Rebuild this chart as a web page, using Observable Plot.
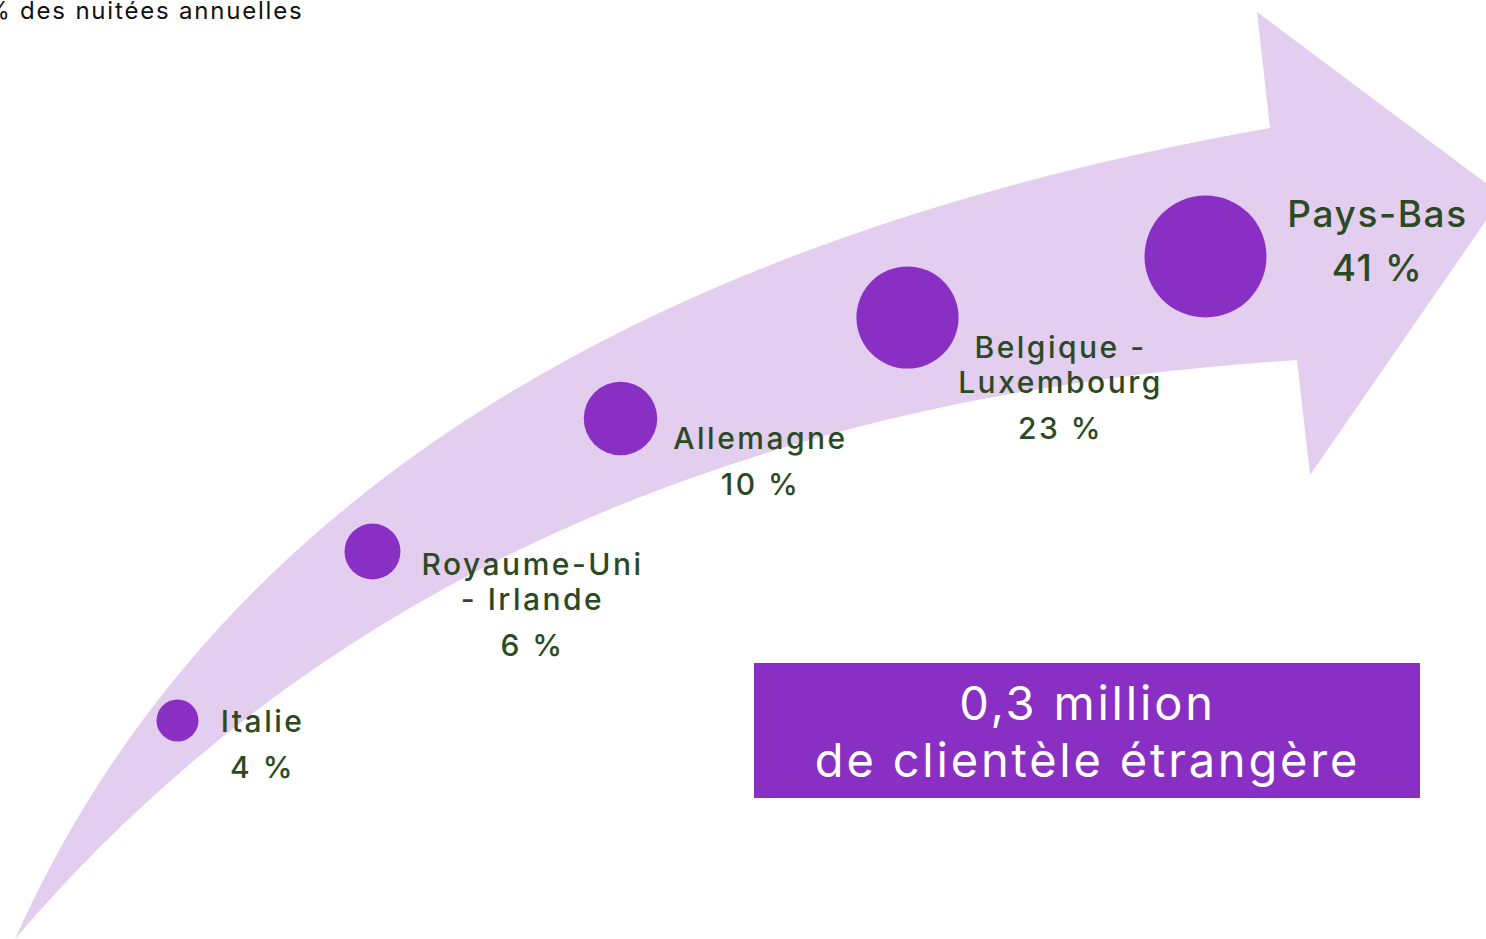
<!DOCTYPE html>
<html><head><meta charset="utf-8">
<script src="https://cdn.jsdelivr.net/npm/d3@7"></script>
<script src="https://cdn.jsdelivr.net/npm/@observablehq/plot@0.6"></script>
<style>
html,body{margin:0;padding:0;background:#fff;overflow:hidden;width:1486px;height:939px}
#chart svg{display:block}
</style>
</head><body><div id="chart"></div>
<script>
// ---- data ----
const countries = ["Italie", "Royaume-Uni\n- Irlande", "Allemagne", "Belgique -\nLuxembourg", "Pays-Bas"];
const shares = [4, 6, 10, 23, 41];
const valueLabels = ["4 %", "6 %", "10 %", "23 %", "41 %"];
const unitLabel = "% des nuitées annuelles";
const totalLabel = "0,3 million\nde clientèle étrangère";

// ---- layout (infographic frame, pixel units) ----
const dotX = [177, 372, 620, 907, 1205];
const dotY = [720, 551, 418, 317, 256];
const labelX = [262, 532, 760, 1060, 1377];
const nameY = [720, 581, 437, 364, 213];
const valueY = [768, 646, 485, 429, 269];
// arrow outline: tail, upper edge (quadratic control, end), head, lower edge (end, control)
const arrowTail = [15, 939];
const upperCtrl = [300, 300], upperEnd = [1270, 128];
const arrowHead = [[1257, 12], [1503, 196], [1310, 475]];
const lowerEnd = [1297, 360], lowerCtrl = [464, 412];
const box = {x1: 754, x2: 1420, y1: 663, y2: 798};

const rows = countries.map((c, i) => ({
  country: c, share: shares[i], value: valueLabels[i],
  x: dotX[i], y: dotY[i], lx: labelX[i], ny: nameY[i], vy: valueY[i]
}));
const maxShare = d3.max(shares);

const purple = "#8a2fc4";
const lilac = "#e3cef0";
const green = "#2b4a24";
const font = "Inter, 'Open Sans', sans-serif";

function arrowMark(index, scales) {
  const X = scales.x, Y = scales.y;
  const P = ([a, b]) => [X(a), Y(b)];
  const p = d3.path();
  p.moveTo(...P(arrowTail));
  p.quadraticCurveTo(...P(upperCtrl), ...P(upperEnd));
  for (const pt of arrowHead) p.lineTo(...P(pt));
  p.lineTo(...P(lowerEnd));
  p.quadraticCurveTo(...P(lowerCtrl), ...P(arrowTail));
  p.closePath();
  return d3.create("svg:path").attr("d", p.toString()).attr("fill", lilac).node();
}

const chart = Plot.plot({
  width: 1486, height: 939,
  margin: 0,
  style: {fontFamily: font, background: "transparent", overflow: "visible"},
  x: {domain: [0, 1486], range: [0, 1486], axis: null},
  y: {domain: [0, 939], range: [0, 939], axis: null},
  r: {type: "log", domain: [4, 41], range: [21, 61]},
  marks: [
    arrowMark,
    Plot.dot(rows, {x: "x", y: "y", r: "share", fill: purple, stroke: "none"}),
    Plot.text(rows, {x: "lx", y: "ny", text: "country", fill: green, lineAnchor: "middle", lineHeight: 1.15,
      fontWeight: 500, fontSize: d => d.share === maxShare ? 37 : 30, ariaDescription: "labels"}),
    Plot.text(rows, {x: "lx", y: "vy", text: "value", fill: green, lineAnchor: "middle", fontWeight: 500,
      fontSize: d => d.share === maxShare ? 37 : 30, ariaDescription: "labels"}),
    Plot.rect([box], {x1: "x1", x2: "x2", y1: "y1", y2: "y2", fill: purple}),
    Plot.text([totalLabel], {x: (box.x1 + box.x2) / 2, y: (box.y1 + box.y2) / 2 - 1, fill: "white", fontSize: 47,
      lineHeight: 1.22, lineAnchor: "middle", ariaDescription: "total"}),
    Plot.text([unitLabel], {frameAnchor: "top-left", dx: 303, dy: 1, textAnchor: "end", fill: "#111", fontSize: 24,
      ariaDescription: "unit"})
  ]
});
const svg = d3.select(chart);
svg.selectAll('g[aria-description="labels"] text').each(function () {
  const fs = +this.getAttribute("font-size") || 30;
  d3.select(this).style("letter-spacing", (fs >= 35 ? 1.6 : 2.5) + "px");
});
svg.selectAll('g[aria-description="total"] text').style("letter-spacing", "2.8px");
svg.selectAll('g[aria-description="unit"] text').style("letter-spacing", "1.8px");
document.getElementById("chart").appendChild(chart);
</script>
</body></html>
